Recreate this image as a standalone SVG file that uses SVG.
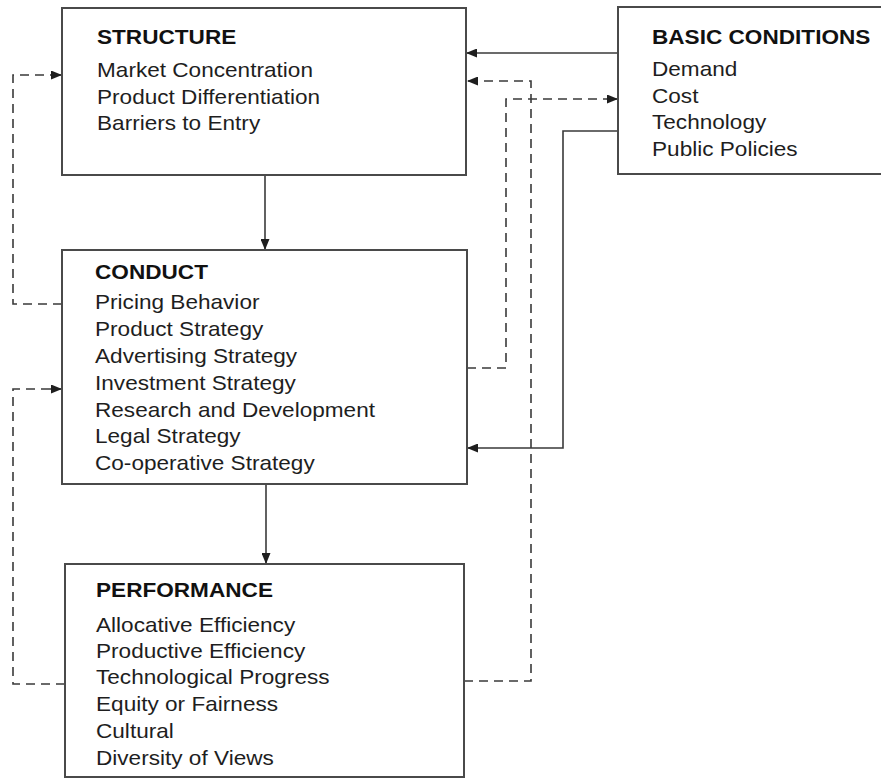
<svg xmlns="http://www.w3.org/2000/svg" width="881" height="778" viewBox="0 0 881 778">
  <style>
    .box { fill: #ffffff; stroke: #4a4a4a; stroke-width: 2; }
    .t { font-family: "Liberation Sans", Arial, Helvetica, sans-serif; font-size: 20px; fill: #1e1e1e; }
    .h { font-weight: bold; fill: #111111; }
    .ln { fill: none; stroke: #3a3a3a; stroke-width: 1.6; }
    .solid { marker-end: url(#arr); }
    .dash { stroke-dasharray: 9 6; }
  </style>
  <defs>
    <marker id="arr" markerUnits="userSpaceOnUse" markerWidth="11" markerHeight="9" refX="10" refY="4.5" orient="auto">
      <path d="M0,0 L11,4.5 L0,9 z" fill="#1e1e1e"/>
    </marker>
  </defs>

  <rect x="0" y="0" width="881" height="778" fill="#ffffff"/>

  <g id="connectors">
    <path class="ln solid" d="M618,53 H467"/>
    <path class="ln dash" d="M464,681 H531 V81 H476"/>
    <path class="ln" d="M476,81 H468" marker-end="url(#arr)"/>
    <path class="ln dash" d="M467,368 H506 V99 H606"/>
    <path class="ln" d="M606,99 H617" marker-end="url(#arr)"/>
    <path class="ln" d="M618,131 H563 V448 H468" marker-end="url(#arr)"/>
    <path class="ln" d="M265,175 V249" marker-end="url(#arr)"/>
    <path class="ln" d="M266,484 V563" marker-end="url(#arr)"/>
    <path class="ln dash" d="M62,304 H13 V75 H50"/>
    <path class="ln" d="M50,75 H61" marker-end="url(#arr)"/>
    <path class="ln dash" d="M65,684 H13 V389 H50"/>
    <path class="ln" d="M50,389 H61" marker-end="url(#arr)"/>
  </g>

  <g id="structure">
    <rect class="box" x="62" y="8" width="404" height="167"/>
    <g transform="translate(97,0) scale(1.13,1)">
      <text class="t h" x="0" y="44">STRUCTURE</text>
      <text class="t" x="0" y="77">Market Concentration</text>
      <text class="t" x="0" y="104">Product Differentiation</text>
      <text class="t" x="0" y="130">Barriers to Entry</text>
    </g>
  </g>

  <g id="basic-conditions">
    <rect class="box" x="618" y="7" width="275" height="167"/>
    <g transform="translate(652,0) scale(1.13,1)">
      <text class="t h" x="0" y="44">BASIC CONDITIONS</text>
      <text class="t" x="0" y="76">Demand</text>
      <text class="t" x="0" y="103">Cost</text>
      <text class="t" x="0" y="129">Technology</text>
      <text class="t" x="0" y="156">Public Policies</text>
    </g>
  </g>

  <g id="conduct">
    <rect class="box" x="62" y="250" width="405" height="234"/>
    <g transform="translate(95,0) scale(1.13,1)">
      <text class="t h" x="0" y="279">CONDUCT</text>
      <text class="t" x="0" y="309">Pricing Behavior</text>
      <text class="t" x="0" y="336">Product Strategy</text>
      <text class="t" x="0" y="363">Advertising Strategy</text>
      <text class="t" x="0" y="390">Investment Strategy</text>
      <text class="t" x="0" y="417">Research and Development</text>
      <text class="t" x="0" y="443">Legal Strategy</text>
      <text class="t" x="0" y="470">Co-operative Strategy</text>
    </g>
  </g>

  <g id="performance">
    <rect class="box" x="65" y="564" width="399" height="213"/>
    <g transform="translate(96,0) scale(1.13,1)">
      <text class="t h" x="0" y="597">PERFORMANCE</text>
      <text class="t" x="0" y="632">Allocative Efficiency</text>
      <text class="t" x="0" y="658">Productive Efficiency</text>
      <text class="t" x="0" y="684">Technological Progress</text>
      <text class="t" x="0" y="711">Equity or Fairness</text>
      <text class="t" x="0" y="738">Cultural</text>
      <text class="t" x="0" y="765">Diversity of Views</text>
    </g>
  </g>
</svg>
